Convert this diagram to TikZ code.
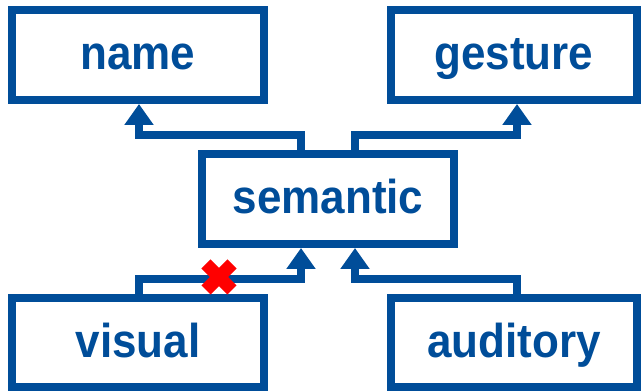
\documentclass[tikz,border=0pt]{standalone}
\usepackage{fontspec}
\setmainfont{Liberation Sans}
\usepackage{xcolor}
\usepackage{tikz}
\usetikzlibrary{
    positioning,
    arrows.meta
}
\definecolor{boxblue}{RGB}{0,77,153}
\newcommand{\boxword}[1]{\scalebox{1}[1.08]{#1}}

\begin{document}
\begin{tikzpicture}[x=1pt, y=1pt,
        box/.style={draw=boxblue, line width=8pt, minimum width=252pt, minimum height=90pt,
            inner sep=0pt, text=boxblue, font=\fontsize{44}{50}\selectfont\bfseries,
            text height=30pt, text depth=0pt},
        link/.style={draw=boxblue, line width=8pt, -{Triangle[width=28pt, length=21pt]}},
        cross/.style={draw=red, line width=13pt}]
        \useasboundingbox (0,0) rectangle (641,391);
        % boxes
        \node[box] (name) at (138,336) {\boxword{name}};
        \node[box, minimum width=246pt] (gesture) at (514,336) {\boxword{gesture}};
        \node[box] (semantic) at (328,192) {\boxword{semantic}};
        \node[box, minimum height=89pt] (visual) at (138,48.5) {\boxword{visual}};
        \node[box, minimum width=246pt, minimum height=89pt] (auditory) at (514,48.5) {\boxword{auditory}};
        
        % connectors
        \draw[link] ([xshift=-27pt]semantic.north) -- ++(0,14.5) -| ([xshift=1pt]name.south);
        \draw[link] ([xshift=27pt]semantic.north) -- ++(0,14.5) -| ([xshift=3pt]gesture.south);
        \draw[link] ([xshift=1pt]visual.north) -- ++(0,14.5) -| ([xshift=-27pt]semantic.south);
        \draw[link] ([xshift=3pt]auditory.north) -- ++(0,14.5) -| ([xshift=27pt]semantic.south);
        
        \coordinate (cut) at (219,114);
        \draw[cross] ([shift={(-13,-13)}]cut) -- ([shift={(13,13)}]cut)
            ([shift={(-13,13)}]cut) -- ([shift={(13,-13)}]cut);
    \end{tikzpicture}
\end{document}
